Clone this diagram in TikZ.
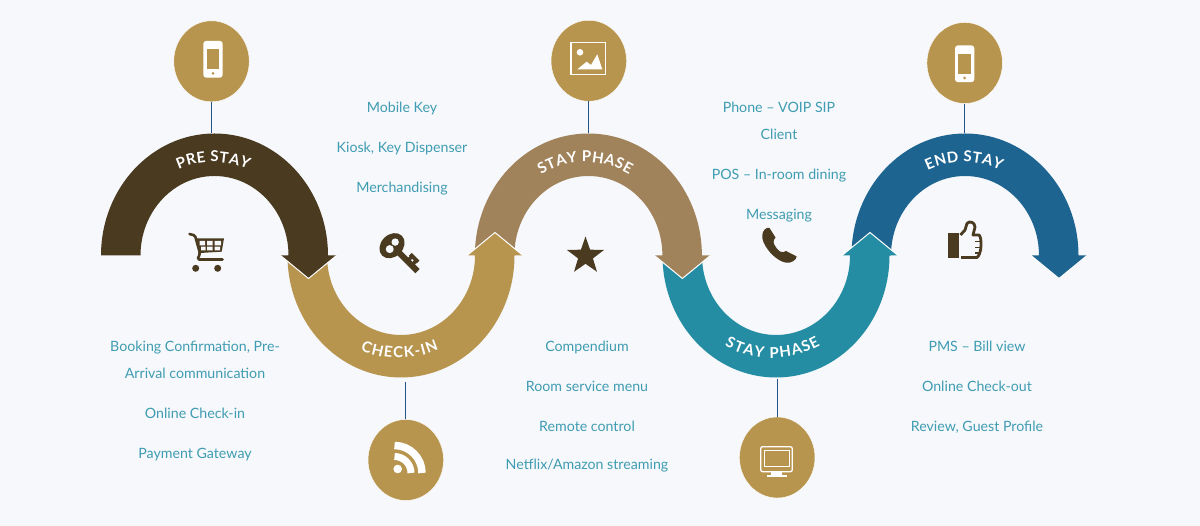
\documentclass[tikz,border=0pt]{standalone}
\usepackage{fontspec}
\usepackage{xcolor}
\setmainfont{Lato}
\usepackage{tikz}
\usetikzlibrary{shapes.geometric,decorations.text}
\definecolor{pagebg}{HTML}{F6F8FB}
\definecolor{darkarch}{HTML}{4A3A20}
\definecolor{goldarch}{HTML}{B8954F}
\definecolor{brownarch}{HTML}{A0825B}
\definecolor{tealarch}{HTML}{248DA3}
\definecolor{bluearch}{HTML}{1D6491}
\definecolor{itemteal}{HTML}{3F9CB2}
\definecolor{stemblue}{HTML}{24558A}
\tikzset{
    iconcirc/.style={ellipse, fill=goldarch, draw=white, line width=0.4, inner sep=0, minimum width=75.5, minimum height=81},
    itemtext/.style={anchor=base, text=itemteal, inner sep=0, font=\fontsize{14.2}{17}\selectfont},
    stemline/.style={stemblue, line width=1.2},
    bandtop/.style={decorate, decoration={text along path, text align=center, text={|\bfseries\fontsize{15}{18}\selectfont\color{white}\kern0.4pt|#1}}},
    bandlow/.style={decorate, decoration={text along path, text align=center, text={|\bfseries\fontsize{15}{18}\selectfont\color{white}\kern1.2pt|#1}}},
    phoneicon/.pic={
        \fill[white, rounded corners=3] (-9.7,-18.4) rectangle (9.7,18.4);
        \fill[goldarch] (-6.3,-10) rectangle (6.3,10);
        \fill[goldarch] (0,-14.2) circle (1.5);
    }
}

\begin{document}
\begin{tikzpicture}[x=1pt,y=1pt]
    \fill[pagebg] (0,0) rectangle (1200,526);
    \useasboundingbox (0,0) rectangle (1200,526);

    % Arches, last one first so that each head lies over the next arch
    \foreach \cx/\s/\archcol in {965/1/bluearch, 776/-1/tealarch, 588.4/1/brownarch, 401/-1/goldarch, 214.5/1/darkarch} {
        \fill[\archcol] (\cx-113.5,270.5) arc[start angle=180, delta angle=-180*\s, x radius=113.5, y radius=122]
            -- (\cx+122,270.5) -- (\cx+94,270.5-23*\s) -- (\cx+66,270.5) -- (\cx+74,270.5)
            arc[start angle=0, delta angle=180*\s, x radius=74, y radius=79.5] -- cycle;
        \draw[white, line width=1] (\cx+66,270.5) -- (\cx+94,270.5-23*\s) -- (\cx+122,270.5);
    }

    % Arch labels
    \path[bandtop=PRE STAY] (125,270.5) arc[start angle=180, end angle=0, x radius=88, y radius=93.5];
    \path[bandlow=CHECK-IN] (299,270.5) arc[start angle=180, end angle=360, x radius=100, y radius=102.5];
    \path[bandtop=STAY PHASE] (497,270.5) arc[start angle=180, end angle=0, x radius=88, y radius=93.5];
    \path[bandlow=STAY PHASE] (672,270.5) arc[start angle=180, end angle=360, x radius=100, y radius=102.5];
    \path[bandtop=END STAY] (876,270.5) arc[start angle=180, end angle=0, x radius=88, y radius=93.5];

    % Circles and their stems
    \node[iconcirc] (circpre) at (211.5,464.7) {};
    \node[iconcirc] (circcheck) at (405.8,66) {};
    \node[iconcirc] (circstay) at (588.8,465.2) {};
    \node[iconcirc] (circtv) at (777.2,68.5) {};
    \node[iconcirc] (circend) at (964.7,463) {};
    \coordinate (archpre) at (211.5,393);
    \coordinate (archcheck) at (405.8,144);
    \coordinate (archstay) at (588.8,393);
    \coordinate (archtv) at (777.2,147);
    \coordinate (archend) at (964.7,393);
    \draw[stemline] (circpre) -- (archpre);
    \draw[stemline] (circcheck) -- (archcheck);
    \draw[stemline] (circstay) -- (archstay);
    \draw[stemline] (circtv) -- (archtv);
    \draw[stemline] (circend) -- (archend);

    % Text lists
    \foreach \x/\y/\label [count=\i] in {
        402/413/{Mobile Key}, 402/373/{Kiosk, Key Dispenser}, 402/333/{Merchandising},
        779/413/{Phone -- VOIP SIP}, 779/386/{Client}, 779/346/{POS -- In-room dining}, 779/306/{Messaging},
        195/174/{Booking Confirmation, Pre-}, 195/147/{Arrival communication}, 195/107/{Online Check-in}, 195/67/{Payment Gateway},
        587/174/{Compendium}, 587/134/{Room service menu}, 587/94/{Remote control}, 587/56/{Netflix/Amazon streaming},
        977/174/{PMS -- Bill view}, 977/134/{Online Check-out}, 977/94/{Review, Guest Profile}} {
        \node[itemtext] (item\i) at (\x,\y) {\label};
    }

    % White icons in the circles
    \pic at (213,466.7) {phoneicon};
    \pic at (964.7,462.2) {phoneicon};
    \draw[white, line width=1.5] (571,451.7) rectangle (605.7,483.3);
    \fill[white] (580,473.7) circle (3.3);
    \fill[white] (577.3,456.7) -- (586.7,464.3) -- (591,461) -- (597.3,471.7) -- (602.3,456.7) -- cycle;
    \fill[white] (397.7,57) circle (4.3);
    \draw[white, line width=7] (394.5,69.5) arc[start angle=90, end angle=0, radius=16.5];
    \draw[white, line width=7.5] (394.5,80.5) arc[start angle=90, end angle=0, radius=27.5];
    \draw[white, line width=1.3, rounded corners=2] (760.7,54.3) rectangle (792.3,79.3);
    \draw[white, line width=0.9] (764.3,60) rectangle (789,75.3);
    \fill[white] (771,50.5) rectangle (782,54.3);
    \fill[white] (766.7,49) rectangle (786.7,51);

    % Dark icons in the arches
    \draw[darkarch, line width=2.6, line join=round, line cap=round, rounded corners=1.5] (189.5,292) -- (195,290.5) -- (200,272.5) -- (197.5,266.5) -- (222.5,266.5);
    \fill[darkarch] (196.7,287.7) -- (224,287.7) -- (221.7,274.3) -- (200,273) -- cycle;
    \fill[pagebg] (199.5,280.5) rectangle (205,285) (207,280.5) rectangle (212.7,285) (214.5,280.5) rectangle (221,285)
        (201,275.5) rectangle (205.5,279.3) (207,275.5) rectangle (212.7,279.3) (214.5,275.5) rectangle (220,279.3);
    \fill[darkarch] (195.7,257.7) circle (3.5) (217.7,257.7) circle (3.5);

    \begin{scope}[shift={(392,280.3)}, rotate=-45]
        \fill[darkarch] (0,0) ellipse[x radius=11, y radius=14];
        \fill[pagebg] (-0.3,4.8) circle (3.7) (0.8,-4) circle (4);
        \fill[darkarch] (9,-3) rectangle (36,3);
        \fill[darkarch] (20,0) rectangle (23.5,6) (26,0) rectangle (29.5,6) (19,5) rectangle (30,8.8);
    \end{scope}

    \node[star, star points=5, star point ratio=2.5, fill=darkarch, inner sep=0, minimum size=39] (staricon) at (585.5,270) {};

    \fill[darkarch] (767,298) .. controls (763,296.5) and (762,292) .. (762.3,288)
        .. controls (764,278) and (776,265) .. (786,263.3)
        .. controls (791,262.5) and (796.5,266) .. (796.7,269.5) -- (786,275)
        .. controls (784,274) and (782.5,273) .. (780,274.5)
        .. controls (777,276.5) and (774,281) .. (773.5,284)
        .. controls (773.5,286) and (774.5,287) .. (775.5,288.5) -- (769.5,298)
        .. controls (769,298.3) and (768,298.3) .. (767,298) -- cycle;

    \fill[darkarch] (948.3,267.7) rectangle (959,292.7);
    \draw[darkarch, line width=2.8, line join=round] (960.5,291) -- (965,296) -- (967,302.5)
        .. controls (969,305.5) and (975,304) .. (975,299) -- (973,291) -- (979,291)
        .. controls (982,289) and (982,272) .. (977,268.5) -- (961,268.5);
    \draw[darkarch, line width=1.6] (975,284.5) -- (981,284.5) (975,278.5) -- (981,278.5) (975,273) -- (980,273);
\end{tikzpicture}
\end{document}
